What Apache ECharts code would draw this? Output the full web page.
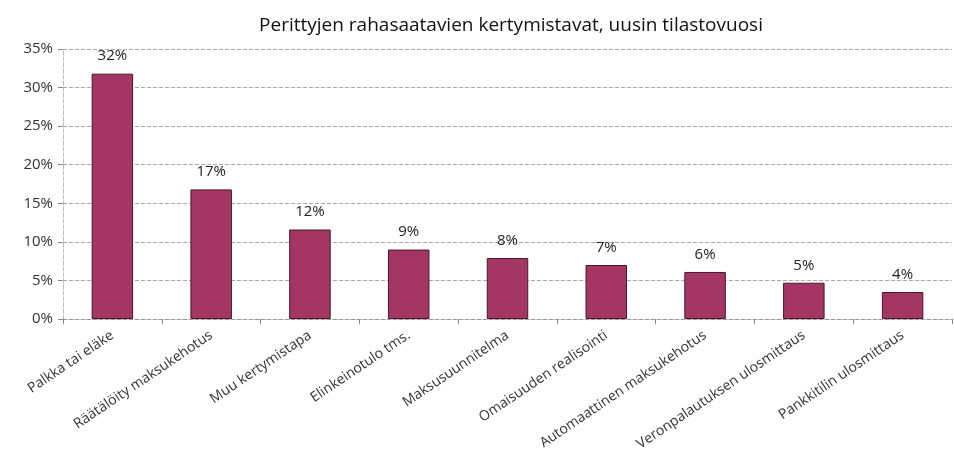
<!DOCTYPE html>
<html>
<head>
<meta charset="utf-8">
<script src="https://cdn.jsdelivr.net/npm/echarts@6/dist/echarts.min.js"></script>
<style>
    html, body { margin: 0; padding: 0; background: #fff; }
    #chart { width: 954px; height: 461px; }
</style>
</head>
<body>
<div id="chart"></div>
<script>
// kategoriat ja osuudet (%)
var categories = [
    'Palkka tai eläke',
    'Räätälöity maksukehotus',
    'Muu kertymistapa',
    'Elinkeinotulo tms.',
    'Maksusuunnitelma',
    'Omaisuuden realisointi',
    'Automaattinen maksukehotus',
    'Veronpalautuksen ulosmittaus',
    'Pankkitilin ulosmittaus'
];
var shares = [31.8, 16.8, 11.6, 9.0, 7.9, 7.0, 6.1, 4.7, 3.5];
var shareLabels = ['32%', '17%', '12%', '9%', '8%', '7%', '6%', '5%', '4%'];
var yTicks = [0, 5, 10, 15, 20, 25, 30, 35];

var myChart = echarts.init(document.getElementById('chart'));
var option = {
    animation: false,
    title: {
        text: 'Perittyjen rahasaatavien kertymistavat, uusin tilastovuosi',
        left: 506,
        textAlign: 'center',
        top: 11,
        textStyle: { fontFamily: 'Open Sans', fontSize: 19, fontWeight: 'normal', color: '#111' }
    },
    grid: { left: 63, right: 2, top: 49, bottom: 142, containLabel: false },
    xAxis: {
        type: 'category',
        data: categories,
        axisLine: { lineStyle: { color: '#999', type: 'dashed', width: 1 } },
        axisTick: { show: true, length: 5, lineStyle: { color: '#888' } },
        axisLabel: {
            interval: 0,
            rotate: 34,
            margin: 15,
            fontFamily: 'Open Sans',
            fontSize: 14,
            color: '#333'
        }
    },
    yAxis: {
        type: 'value',
        min: 0,
        max: yTicks[yTicks.length - 1],
        interval: 5,
        axisLine: { show: true, lineStyle: { color: '#bbb', type: 'dashed' } },
        axisTick: { show: true, length: 5, lineStyle: { color: '#888' } },
        splitLine: { show: true, lineStyle: { color: '#aaa', type: 'dashed', width: 1 } },
        axisLabel: {
            formatter: function (v) { return v + '%'; },
            fontFamily: 'Open Sans',
            fontSize: 15,
            color: '#333',
            margin: 10
        }
    },
    series: [{
        type: 'bar',
        data: shares,
        barWidth: '42%',
        itemStyle: { color: '#a33663', borderColor: '#4a1628', borderWidth: 1 },
        label: {
            show: true,
            position: 'top',
            distance: 10,
            fontFamily: 'Open Sans',
            fontSize: 15,
            color: '#222',
            formatter: function (p) { return shareLabels[p.dataIndex]; }
        }
    }]
};
myChart.setOption(option);
</script>
</body>
</html>
